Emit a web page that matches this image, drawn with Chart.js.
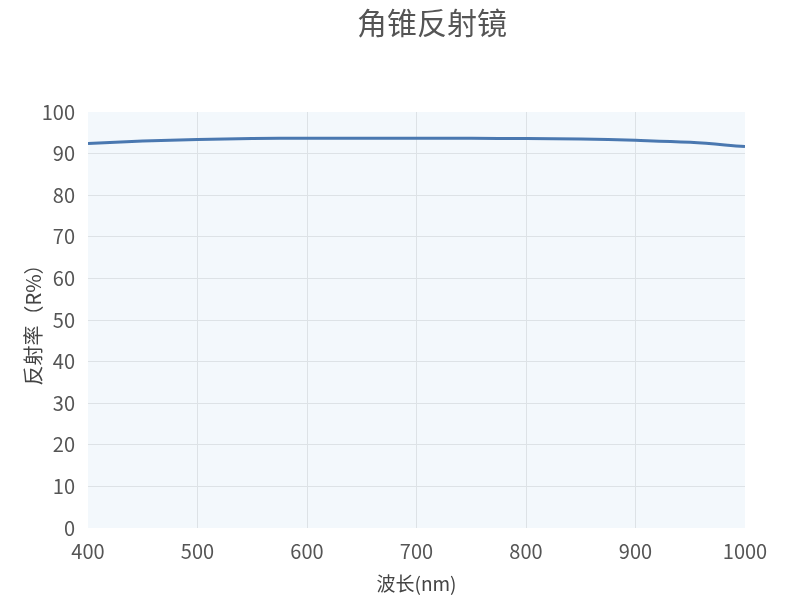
<!DOCTYPE html>
<html lang="zh">
<head>
  <meta charset="UTF-8">
  <title>角锥反射镜</title>
  <style>
    html, body { margin: 0; padding: 0; background: #fff; }
    #wrap { width: 800px; height: 600px; }
  </style>
</head>
<body>
<div id="wrap"><canvas id="myChart"></canvas></div>
<script src="https://cdn.jsdelivr.net/npm/chart.js"></script>
<script>
// 波长 (nm) 与反射率 (R%)
var wavelengths = [400, 450, 500, 550, 600, 650, 700, 750, 800, 850, 900, 950, 1000];
var reflectance = [92.4, 93.0, 93.4, 93.6, 93.7, 93.7, 93.7, 93.7, 93.6, 93.5, 93.2, 92.7, 91.7];
var xTicks = [400, 500, 600, 700, 800, 900, 1000];
var yTicks = [0, 10, 20, 30, 40, 50, 60, 70, 80, 90, 100];
var chartTitle = '角锥反射镜';

var points = wavelengths.map(function (w, i) { return { x: w, y: reflectance[i] }; });

var font = '"Noto Sans CJK SC", "Noto Sans", sans-serif';

// 绘图区浅蓝底色 + 标题
var areaBg = {
  id: 'areaBg',
  beforeDraw: function (chart) {
    var a = chart.chartArea, c = chart.ctx;
    c.save();
    c.fillStyle = '#f3f8fc';
    c.fillRect(a.left, a.top, a.right - a.left, a.bottom - a.top);
    c.restore();
  },
  afterDraw: function (chart) {
    var c = chart.ctx;
    c.save();
    c.fillStyle = '#555';
    c.font = '30px ' + font;
    c.textAlign = 'center';
    c.textBaseline = 'middle';
    c.fillText(chartTitle, 432, 23);
    c.restore();
  }
};

// 只画内部网格线
function innerGrid(ctx) {
  var t = ctx.scale.ticks;
  if (ctx.index === 0 || ctx.index === t.length - 1) return 'rgba(0,0,0,0)';
  return '#dde2e6';
}

var ctx = document.getElementById('myChart').getContext('2d');
var myChart = new Chart(ctx, {
  type: 'line',
  data: {
    datasets: [{
      data: points,
      borderColor: '#4a78b0',
      borderWidth: 3,
      pointRadius: 0,
      tension: 0.4,
      fill: false
    }]
  },
  options: {
    responsive: true,
    maintainAspectRatio: false,
    animation: false,
    layout: { padding: { top: 112, right: 55, bottom: 5, left: 21 } },
    plugins: {
      legend: { display: false },
      tooltip: { enabled: false },
      title: { display: false }
    },
    scales: {
      x: {
        type: 'linear',
        min: 400,
        max: 1000,
        afterBuildTicks: function (axis) { axis.ticks = xTicks.map(function (v) { return { value: v }; }); },
        afterFit: function (axis) { axis.height = 67; },
        grid: { color: innerGrid, drawTicks: false },
        border: { display: false },
        ticks: { color: '#555', padding: 11, font: { family: font, size: 20 }, callback: function (v) { return String(v); } },
        title: { display: true, text: '波长(nm)', color: '#444', padding: 0, font: { family: font, size: 19 } }
      },
      y: {
        min: 0,
        max: 100,
        afterBuildTicks: function (axis) { axis.ticks = yTicks.map(function (v) { return { value: v }; }); },
        afterFit: function (axis) { axis.width = 67; },
        grid: { color: innerGrid, drawTicks: false },
        border: { display: false },
        ticks: { color: '#555', padding: 13, font: { family: font, size: 20 }, callback: function (v) { return String(v); } },
        title: { display: true, text: '反射率（R%）', color: '#444', padding: 0, font: { family: font, size: 20 } }
      }
    }
  },
  plugins: [areaBg]
});
</script>
</body>
</html>
